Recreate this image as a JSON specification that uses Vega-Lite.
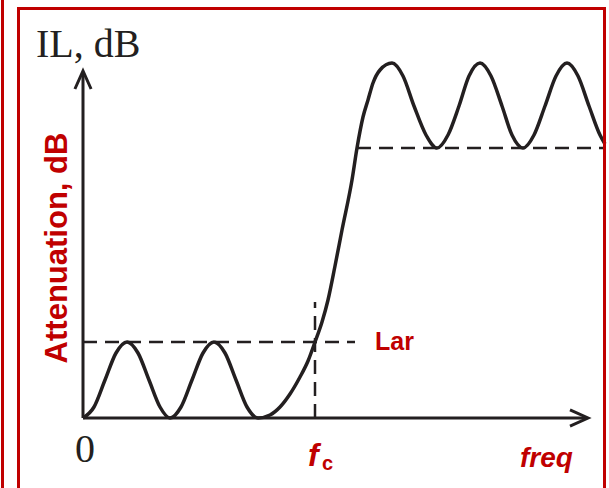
{
  "$schema": "https://vega.github.io/schema/vega-lite/v6.json",
  "width": 609,
  "height": 488,
  "padding": 0,
  "autosize": {"type": "none"},
  "background": "white",
  "config": {"view": {"stroke": null}},
  "datasets": {
    "curve": [
      {"freq": 0, "atten": 0}, {"freq": 11, "atten": 11}, {"freq": 22, "atten": 38}, {"freq": 33, "atten": 65},
      {"freq": 44, "atten": 76}, {"freq": 55, "atten": 65}, {"freq": 66, "atten": 38}, {"freq": 77, "atten": 11},
      {"freq": 87, "atten": 0}, {"freq": 98, "atten": 11}, {"freq": 109, "atten": 38}, {"freq": 120, "atten": 65},
      {"freq": 131, "atten": 76}, {"freq": 142, "atten": 65}, {"freq": 153, "atten": 38}, {"freq": 164, "atten": 11},
      {"freq": 175, "atten": 0}, {"freq": 187, "atten": 3}, {"freq": 197, "atten": 11}, {"freq": 207, "atten": 24},
      {"freq": 217, "atten": 41}, {"freq": 225, "atten": 57}, {"freq": 232, "atten": 76}, {"freq": 239, "atten": 96},
      {"freq": 245, "atten": 118}, {"freq": 252, "atten": 152}, {"freq": 259, "atten": 188},
      {"freq": 269, "atten": 238}, {"freq": 274, "atten": 270}, {"freq": 280, "atten": 301}, {"freq": 285, "atten": 318},
      {"freq": 290, "atten": 335}, {"freq": 297, "atten": 348}, {"freq": 309, "atten": 355}, {"freq": 320, "atten": 342},
      {"freq": 331, "atten": 312}, {"freq": 343, "atten": 283}, {"freq": 354, "atten": 270}, {"freq": 365, "atten": 283},
      {"freq": 376, "atten": 312}, {"freq": 386, "atten": 342}, {"freq": 397, "atten": 355}, {"freq": 408, "atten": 342},
      {"freq": 419, "atten": 312}, {"freq": 429, "atten": 283}, {"freq": 440, "atten": 270}, {"freq": 451, "atten": 283},
      {"freq": 462, "atten": 312}, {"freq": 473, "atten": 342}, {"freq": 484, "atten": 355}, {"freq": 495, "atten": 342},
      {"freq": 506, "atten": 312}, {"freq": 517, "atten": 283}, {"freq": 522, "atten": 274}
    ],
    "guides": [
      {"name": "Lar", "freq": 0, "atten": 76, "freq2": 272, "atten2": 76},
      {"name": "stop", "freq": 274, "atten": 270, "freq2": 522, "atten2": 270},
      {"name": "fc", "freq": 232, "atten": 0, "freq2": 232, "atten2": 116}
    ],
    "axes": [
      {"name": "yaxis", "freq": 0, "atten": 0, "freq2": 0, "atten2": 346},
      {"name": "xaxis", "freq": 0, "atten": 0, "freq2": 504, "atten2": 0}
    ],
    "frame": [
      {"freq": -64.5, "atten": 409.5, "freq2": 521.5, "atten2": -90}
    ],
    "edge": [
      {"freq": -80.5, "atten": 430, "freq2": -80.5, "atten2": -90}
    ]
  },
  "layer": [
    {
      "data": {"name": "guides"},
      "mark": {"type": "rule", "stroke": "#231f20", "strokeWidth": 2.5, "strokeDash": [14, 8]},
      "encoding": {
        "x": {"field": "freq", "type": "quantitative", "axis": null, "scale": {"domain": [-83, 526], "nice": false, "zero": false}},
        "y": {"field": "atten", "type": "quantitative", "axis": null, "scale": {"domain": [-70, 418], "nice": false, "zero": false}},
        "x2": {"field": "freq2"},
        "y2": {"field": "atten2"}
      }
    },
    {
      "data": {"name": "axes"},
      "mark": {"type": "rule", "stroke": "#231f20", "strokeWidth": 3},
      "encoding": {
        "x": {"field": "freq", "type": "quantitative", "axis": null, "scale": {"domain": [-83, 526], "nice": false, "zero": false}},
        "y": {"field": "atten", "type": "quantitative", "axis": null, "scale": {"domain": [-70, 418], "nice": false, "zero": false}},
        "x2": {"field": "freq2"},
        "y2": {"field": "atten2"}
      }
    },
    {
      "data": {"values": [{"freq": 0, "atten": 347}]},
      "mark": {"type": "point", "shape": "M -0.45 1 L 0 0 L 0.45 1", "size": 1296, "filled": false, "stroke": "#231f20", "strokeWidth": 3, "strokeJoin": "miter", "opacity": 1},
      "encoding": {
        "x": {"field": "freq", "type": "quantitative", "axis": null, "scale": {"domain": [-83, 526], "nice": false, "zero": false}},
        "y": {"field": "atten", "type": "quantitative", "axis": null, "scale": {"domain": [-70, 418], "nice": false, "zero": false}}
      }
    },
    {
      "data": {"values": [{"freq": 505, "atten": 0}]},
      "mark": {"type": "point", "shape": "M -0.45 1 L 0 0 L 0.45 1", "size": 1296, "angle": 90, "filled": false, "stroke": "#231f20", "strokeWidth": 3, "strokeJoin": "miter", "opacity": 1},
      "encoding": {
        "x": {"field": "freq", "type": "quantitative", "axis": null, "scale": {"domain": [-83, 526], "nice": false, "zero": false}},
        "y": {"field": "atten", "type": "quantitative", "axis": null, "scale": {"domain": [-70, 418], "nice": false, "zero": false}}
      }
    },
    {
      "data": {"name": "curve"},
      "mark": {"type": "line", "stroke": "#231f20", "strokeWidth": 3.5, "interpolate": "monotone"},
      "encoding": {
        "x": {"field": "freq", "type": "quantitative", "axis": null, "scale": {"domain": [-83, 526], "nice": false, "zero": false}},
        "y": {"field": "atten", "type": "quantitative", "axis": null, "scale": {"domain": [-70, 418], "nice": false, "zero": false}}
      }
    },
    {
      "data": {"name": "frame"},
      "mark": {"type": "rect", "filled": false, "stroke": "#c00000", "strokeWidth": 3},
      "encoding": {
        "x": {"field": "freq", "type": "quantitative", "axis": null, "scale": {"domain": [-83, 526], "nice": false, "zero": false}},
        "y": {"field": "atten", "type": "quantitative", "axis": null, "scale": {"domain": [-70, 418], "nice": false, "zero": false}},
        "x2": {"field": "freq2"},
        "y2": {"field": "atten2"}
      }
    },
    {
      "data": {"name": "edge"},
      "mark": {"type": "rule", "stroke": "#c00000", "strokeWidth": 3},
      "encoding": {
        "x": {"field": "freq", "type": "quantitative", "axis": null, "scale": {"domain": [-83, 526], "nice": false, "zero": false}},
        "y": {"field": "atten", "type": "quantitative", "axis": null, "scale": {"domain": [-70, 418], "nice": false, "zero": false}},
        "y2": {"field": "atten2"}
      }
    },
    {
      "data": {"values": [{"label": "IL, dB", "freq": -47, "atten": 361}, {"label": "0", "freq": -8, "atten": -44}]},
      "mark": {"type": "text", "font": "Liberation Serif", "fontSize": 40, "fill": "#231f20", "align": "left", "baseline": "alphabetic"},
      "encoding": {
        "x": {"field": "freq", "type": "quantitative", "axis": null, "scale": {"domain": [-83, 526], "nice": false, "zero": false}},
        "y": {"field": "atten", "type": "quantitative", "axis": null, "scale": {"domain": [-70, 418], "nice": false, "zero": false}},
        "text": {"field": "label"}
      }
    },
    {
      "data": {"values": [{"label": "Attenuation, dB", "freq": -16, "atten": 170}]},
      "mark": {"type": "text", "font": "Liberation Sans", "fontSize": 31, "fontWeight": "bold", "fill": "#c00000", "align": "center", "baseline": "alphabetic", "angle": 270},
      "encoding": {
        "x": {"field": "freq", "type": "quantitative", "axis": null, "scale": {"domain": [-83, 526], "nice": false, "zero": false}},
        "y": {"field": "atten", "type": "quantitative", "axis": null, "scale": {"domain": [-70, 418], "nice": false, "zero": false}},
        "text": {"field": "label"}
      }
    },
    {
      "data": {"values": [{"label": "Lar", "freq": 292, "atten": 68}]},
      "mark": {"type": "text", "font": "Liberation Sans", "fontSize": 25, "fontWeight": "bold", "fill": "#c00000", "align": "left", "baseline": "alphabetic"},
      "encoding": {
        "x": {"field": "freq", "type": "quantitative", "axis": null, "scale": {"domain": [-83, 526], "nice": false, "zero": false}},
        "y": {"field": "atten", "type": "quantitative", "axis": null, "scale": {"domain": [-70, 418], "nice": false, "zero": false}},
        "text": {"field": "label"}
      }
    },
    {
      "data": {"values": [{"label": "f", "freq": 225, "atten": -48}]},
      "mark": {"type": "text", "font": "Liberation Sans", "fontSize": 32, "fontWeight": "bold", "fontStyle": "italic", "fill": "#c00000", "align": "left", "baseline": "alphabetic"},
      "encoding": {
        "x": {"field": "freq", "type": "quantitative", "axis": null, "scale": {"domain": [-83, 526], "nice": false, "zero": false}},
        "y": {"field": "atten", "type": "quantitative", "axis": null, "scale": {"domain": [-70, 418], "nice": false, "zero": false}},
        "text": {"field": "label"}
      }
    },
    {
      "data": {"values": [{"label": "c", "freq": 239, "atten": -52}]},
      "mark": {"type": "text", "font": "Liberation Sans", "fontSize": 20, "fontWeight": "bold", "fill": "#c00000", "align": "left", "baseline": "alphabetic"},
      "encoding": {
        "x": {"field": "freq", "type": "quantitative", "axis": null, "scale": {"domain": [-83, 526], "nice": false, "zero": false}},
        "y": {"field": "atten", "type": "quantitative", "axis": null, "scale": {"domain": [-70, 418], "nice": false, "zero": false}},
        "text": {"field": "label"}
      }
    },
    {
      "data": {"values": [{"label": "freq", "freq": 437, "atten": -49}]},
      "mark": {"type": "text", "font": "Liberation Sans", "fontSize": 28, "fontWeight": "bold", "fontStyle": "italic", "fill": "#c00000", "align": "left", "baseline": "alphabetic"},
      "encoding": {
        "x": {"field": "freq", "type": "quantitative", "axis": null, "scale": {"domain": [-83, 526], "nice": false, "zero": false}},
        "y": {"field": "atten", "type": "quantitative", "axis": null, "scale": {"domain": [-70, 418], "nice": false, "zero": false}},
        "text": {"field": "label"}
      }
    }
  ]
}
